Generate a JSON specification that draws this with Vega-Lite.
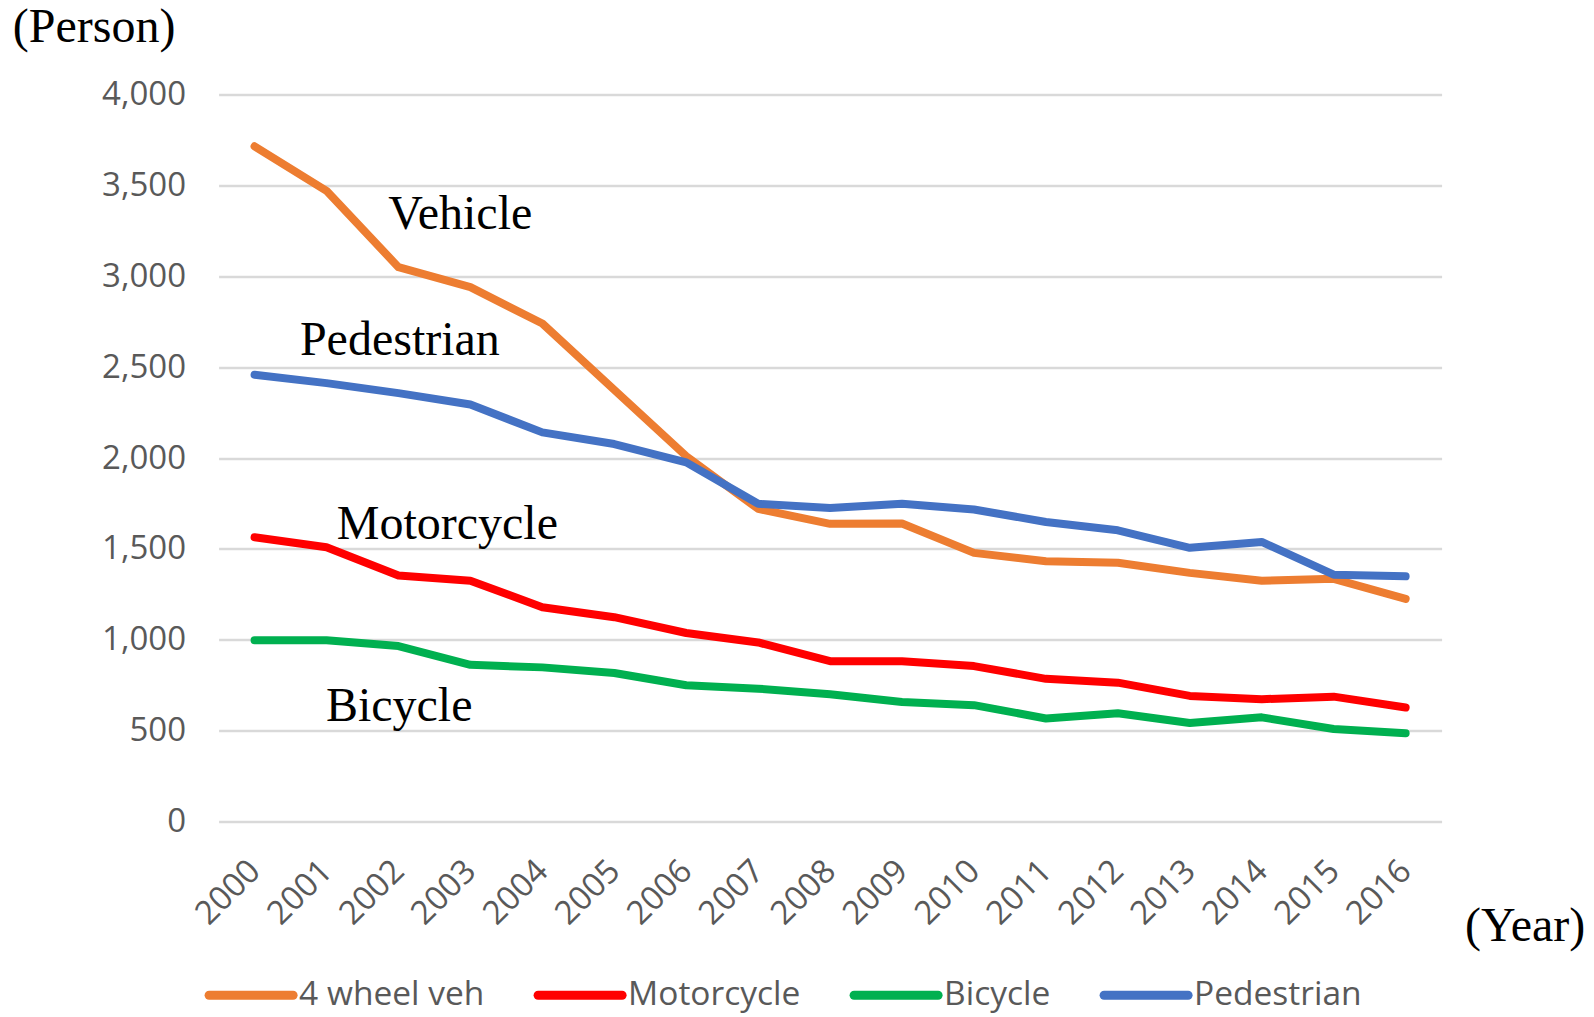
{
  "$schema": "https://vega.github.io/schema/vega-lite/v6.json",
  "width": 1223,
  "height": 727,
  "autosize": {"type": "none"},
  "padding": {"left": 218.6, "top": 94.5, "right": 152.4, "bottom": 195.5},
  "background": "white",
  "config": {"view": {"stroke": null}},
  "datasets": {
    "series": [
      {"year": 2000, "series": "4 wheel veh", "value": 3715},
      {"year": 2001, "series": "4 wheel veh", "value": 3470},
      {"year": 2002, "series": "4 wheel veh", "value": 3050},
      {"year": 2003, "series": "4 wheel veh", "value": 2940},
      {"year": 2004, "series": "4 wheel veh", "value": 2740},
      {"year": 2005, "series": "4 wheel veh", "value": 2375},
      {"year": 2006, "series": "4 wheel veh", "value": 2010},
      {"year": 2007, "series": "4 wheel veh", "value": 1720},
      {"year": 2008, "series": "4 wheel veh", "value": 1638},
      {"year": 2009, "series": "4 wheel veh", "value": 1640},
      {"year": 2010, "series": "4 wheel veh", "value": 1478},
      {"year": 2011, "series": "4 wheel veh", "value": 1432},
      {"year": 2012, "series": "4 wheel veh", "value": 1424},
      {"year": 2013, "series": "4 wheel veh", "value": 1368},
      {"year": 2014, "series": "4 wheel veh", "value": 1325},
      {"year": 2015, "series": "4 wheel veh", "value": 1335},
      {"year": 2016, "series": "4 wheel veh", "value": 1225},
      {"year": 2000, "series": "Motorcycle", "value": 1564},
      {"year": 2001, "series": "Motorcycle", "value": 1509},
      {"year": 2002, "series": "Motorcycle", "value": 1353},
      {"year": 2003, "series": "Motorcycle", "value": 1325},
      {"year": 2004, "series": "Motorcycle", "value": 1179},
      {"year": 2005, "series": "Motorcycle", "value": 1124},
      {"year": 2006, "series": "Motorcycle", "value": 1037},
      {"year": 2007, "series": "Motorcycle", "value": 985},
      {"year": 2008, "series": "Motorcycle", "value": 882},
      {"year": 2009, "series": "Motorcycle", "value": 882},
      {"year": 2010, "series": "Motorcycle", "value": 855},
      {"year": 2011, "series": "Motorcycle", "value": 785},
      {"year": 2012, "series": "Motorcycle", "value": 764},
      {"year": 2013, "series": "Motorcycle", "value": 691},
      {"year": 2014, "series": "Motorcycle", "value": 673},
      {"year": 2015, "series": "Motorcycle", "value": 687},
      {"year": 2016, "series": "Motorcycle", "value": 627},
      {"year": 2000, "series": "Bicycle", "value": 997},
      {"year": 2001, "series": "Bicycle", "value": 997},
      {"year": 2002, "series": "Bicycle", "value": 965},
      {"year": 2003, "series": "Bicycle", "value": 862},
      {"year": 2004, "series": "Bicycle", "value": 848},
      {"year": 2005, "series": "Bicycle", "value": 817},
      {"year": 2006, "series": "Bicycle", "value": 750},
      {"year": 2007, "series": "Bicycle", "value": 731},
      {"year": 2008, "series": "Bicycle", "value": 700},
      {"year": 2009, "series": "Bicycle", "value": 658},
      {"year": 2010, "series": "Bicycle", "value": 640},
      {"year": 2011, "series": "Bicycle", "value": 567},
      {"year": 2012, "series": "Bicycle", "value": 596},
      {"year": 2013, "series": "Bicycle", "value": 542},
      {"year": 2014, "series": "Bicycle", "value": 573},
      {"year": 2015, "series": "Bicycle", "value": 509},
      {"year": 2016, "series": "Bicycle", "value": 485},
      {"year": 2000, "series": "Pedestrian", "value": 2458},
      {"year": 2001, "series": "Pedestrian", "value": 2412},
      {"year": 2002, "series": "Pedestrian", "value": 2357},
      {"year": 2003, "series": "Pedestrian", "value": 2294},
      {"year": 2004, "series": "Pedestrian", "value": 2141},
      {"year": 2005, "series": "Pedestrian", "value": 2077},
      {"year": 2006, "series": "Pedestrian", "value": 1976},
      {"year": 2007, "series": "Pedestrian", "value": 1748},
      {"year": 2008, "series": "Pedestrian", "value": 1725},
      {"year": 2009, "series": "Pedestrian", "value": 1748},
      {"year": 2010, "series": "Pedestrian", "value": 1717},
      {"year": 2011, "series": "Pedestrian", "value": 1648},
      {"year": 2012, "series": "Pedestrian", "value": 1602},
      {"year": 2013, "series": "Pedestrian", "value": 1506},
      {"year": 2014, "series": "Pedestrian", "value": 1538},
      {"year": 2015, "series": "Pedestrian", "value": 1358},
      {"year": 2016, "series": "Pedestrian", "value": 1349}
    ],
    "labels": [
      {"label": "Vehicle", "year": 2002.86, "value": 3339},
      {"label": "Pedestrian", "year": 2002.02, "value": 2646},
      {"label": "Motorcycle", "year": 2002.68, "value": 1634},
      {"label": "Bicycle", "year": 2002.01, "value": 632}
    ]
  },
  "layer": [
    {
      "data": {"name": "series"},
      "mark": {"type": "line", "strokeWidth": 8, "strokeCap": "round", "strokeJoin": "round"},
      "encoding": {
        "x": {
          "field": "year", "type": "quantitative",
          "scale": {"domain": [1999.5, 2016.5], "nice": false, "zero": false},
          "axis": {
            "values": [2000, 2001, 2002, 2003, 2004, 2005, 2006, 2007, 2008, 2009, 2010, 2011, 2012, 2013, 2014, 2015, 2016],
            "format": "d", "labelAngle": -45, "labelAlign": "right", "labelBaseline": "middle",
            "labelPadding": 44, "ticks": false, "domain": false, "grid": false, "labelOverlap": false,
            "labelFont": "Open Sans", "labelFontSize": 33, "labelColor": "#595959",
            "title": "(Year)", "titleFont": "Liberation Serif", "titleFontSize": 48, "titleFontWeight": "normal",
            "titleColor": "#000000", "titleX": 1306, "titleY": 105, "titleAlign": "center", "titleBaseline": "middle"
          }
        },
        "y": {
          "field": "value", "type": "quantitative",
          "scale": {"domain": [0, 4000], "nice": false},
          "axis": {
            "values": [0, 500, 1000, 1500, 2000, 2500, 3000, 3500, 4000],
            "format": ",d", "ticks": false, "domain": false,
            "gridColor": "#D9D9D9", "gridWidth": 2.5,
            "labelPadding": 33, "labelFont": "Open Sans", "labelFontSize": 33, "labelColor": "#595959",
            "title": "(Person)", "titleAngle": 0, "titleX": -125, "titleY": -67,
            "titleAlign": "center", "titleBaseline": "middle",
            "titleFont": "Liberation Serif", "titleFontSize": 48, "titleFontWeight": "normal", "titleColor": "#000000"
          }
        },
        "color": {
          "field": "series", "type": "nominal",
          "scale": {"domain": ["4 wheel veh", "Motorcycle", "Bicycle", "Pedestrian"], "range": ["#ED7D31", "#FF0000", "#00B050", "#4472C4"]},
          "legend": {
            "orient": "none", "legendX": -14, "legendY": 854, "direction": "horizontal", "columns": 4,
            "title": null, "symbolType": "stroke", "symbolSize": 7056, "symbolStrokeWidth": 9,
            "labelFont": "Open Sans", "labelFontSize": 33.5, "labelColor": "#595959", "labelOffset": 1.5,
            "columnPadding": 35, "labelLimit": 400,
            "encode": {"symbols": {"update": {"strokeCap": {"value": "round"}}}}
          }
        }
      }
    },
    {
      "data": {"name": "labels"},
      "mark": {"type": "text", "font": "Liberation Serif", "fontSize": 48, "align": "center", "baseline": "middle", "color": "#000000"},
      "encoding": {
        "x": {"field": "year", "type": "quantitative"},
        "y": {"field": "value", "type": "quantitative"},
        "text": {"field": "label"}
      }
    }
  ]
}
